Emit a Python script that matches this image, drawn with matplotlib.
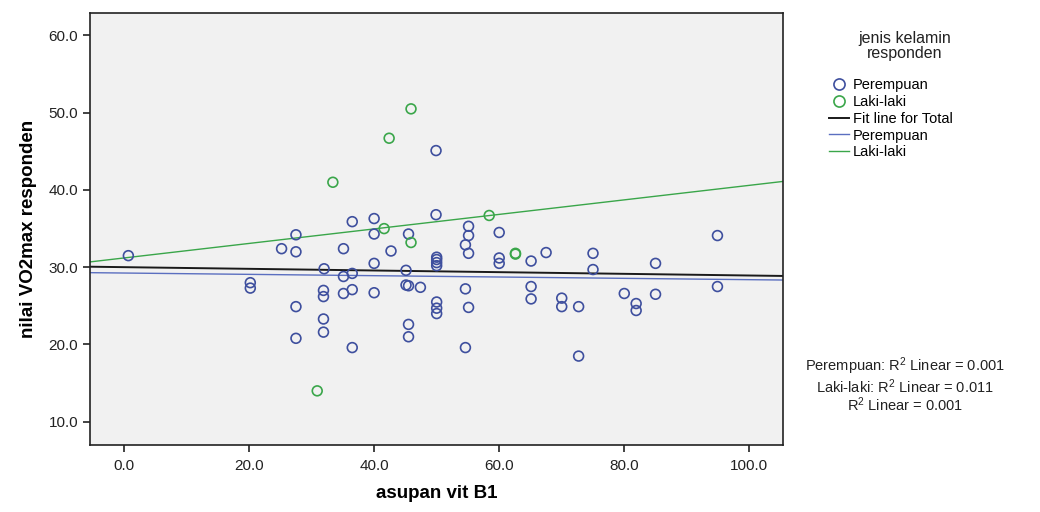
import numpy as np
import matplotlib
matplotlib.use('Agg')
from matplotlib import pyplot as plt
from matplotlib.lines import Line2D

plt.rcParams['font.family'] = ['Liberation Sans', 'DejaVu Sans']
plt.rcParams['mathtext.default'] = 'regular'

# asupan vit B1 vs nilai VO2max, perempuan
x_pr = [0.7, 27.5, 25.2, 27.5, 36.5, 40.0, 40.0, 45.5, 49.9, 50.0, 35.1, 42.7,
        40.0, 45.1, 50.0, 50.0, 50.0, 32.0, 35.1, 36.5, 20.2, 20.2, 31.9, 31.9,
        35.1, 36.5, 40.0, 45.1, 45.5, 47.4, 50.0, 50.0, 50.0, 27.5, 31.9, 31.9,
        27.5, 45.5, 45.5, 36.5, 49.9, 55.1, 55.1, 54.6, 55.1, 60.0, 60.0, 60.0,
        65.1, 67.5, 75.0, 75.0, 85.0, 94.9, 94.9, 54.6, 55.1, 65.1, 65.1, 70.0,
        70.0, 72.7, 80.0, 81.9, 81.9, 85.0, 54.6, 72.7]
y_pr = [31.5, 34.2, 32.4, 32.0, 35.9, 36.3, 34.3, 34.3, 36.8, 31.3, 32.4, 32.1,
        30.5, 29.6, 30.6, 30.2, 31.0, 29.8, 28.8, 29.2, 28.0, 27.3, 27.0, 26.2,
        26.6, 27.1, 26.7, 27.7, 27.6, 27.4, 25.5, 24.7, 24.0, 24.9, 23.3, 21.6,
        20.8, 22.6, 21.0, 19.6, 45.1, 35.3, 34.1, 32.9, 31.8, 34.5, 31.2, 30.5,
        30.8, 31.9, 31.8, 29.7, 30.5, 34.1, 27.5, 27.2, 24.8, 27.5, 25.9, 26.0,
        24.9, 24.9, 26.6, 25.3, 24.4, 26.5, 19.6, 18.5]

# laki-laki
x_lk = [45.9, 42.4, 33.4, 41.6, 45.9, 58.4, 62.6, 62.6, 30.9]
y_lk = [50.5, 46.7, 41.0, 35.0, 33.2, 36.7, 31.7, 31.8, 14.0]

# garis regresi (intercept, slope)
fit_total = (30.01, -0.0108)
fit_pr = (29.25, -0.0086)
fit_lk = (31.2, 0.094)

r2_text = ['Perempuan: R$^2$ Linear = 0.001',
           'Laki-laki: R$^2$ Linear = 0.011',
           'R$^2$ Linear = 0.001']

c_pr = '#3e4f9e'
c_lk = '#3aa64a'

fig = plt.figure(figsize=(10.4, 5.12), dpi=100)
ax = fig.add_axes([0.0865, 0.131, 0.6665, 0.8435])
ax.set_facecolor('#f1f1f1')

ax.scatter(x_pr, y_pr, s=50, facecolors='none', edgecolors=c_pr, linewidths=1.2, zorder=3)
ax.scatter(x_lk, y_lk, s=50, facecolors='none', edgecolors=c_lk, linewidths=1.2, zorder=3)

xlim = (-5.44, 105.4)
xx = np.array(xlim)
ax.plot(xx, fit_total[0] + fit_total[1] * xx, color='#1a1a1a', lw=1.4, zorder=2)
ax.plot(xx, fit_pr[0] + fit_pr[1] * xx, color='#5b6fc0', lw=1.0, zorder=2)
ax.plot(xx, fit_lk[0] + fit_lk[1] * xx, color=c_lk, lw=1.0, zorder=2)

ax.set_xlim(*xlim)
ax.set_ylim(7.0, 62.9)
ax.set_xticks(np.arange(0, 101, 20))
ax.set_xticklabels(['%.1f' % v for v in np.arange(0, 101, 20)])
ax.set_yticks(np.arange(10, 61, 10))
ax.set_yticklabels(['%.1f' % v for v in np.arange(10, 61, 10)])
ax.tick_params(axis='both', direction='out', length=5, width=1.2, labelsize=11, colors='#222222')
ax.tick_params(axis='x', pad=5)
for sp in ax.spines.values():
    sp.set_linewidth(1.2)
    sp.set_color('#222222')

ax.set_xlabel('asupan vit B1', fontsize=13.5, fontweight='bold', labelpad=9)
ax.set_ylabel('nilai VO2max responden', fontsize=13.5, fontweight='bold', labelpad=8)

# legend title drawn separately so the gap below it can be set
fig.text(0.87, 0.91, 'jenis kelamin\nresponden', ha='center', va='center', fontsize=11.5,
         linespacing=1.0, color='#222222')

handles = [Line2D([], [], ls='none', marker='o', ms=8, mfc='none', mec=c_pr, mew=1.2),
           Line2D([], [], ls='none', marker='o', ms=8, mfc='none', mec=c_lk, mew=1.2),
           Line2D([], [], color='#1a1a1a', lw=1.4),
           Line2D([], [], color='#5b6fc0', lw=1.0),
           Line2D([], [], color=c_lk, lw=1.0)]
labels = ['Perempuan', 'Laki-laki', 'Fit line for Total', 'Perempuan', 'Laki-laki']
fig.legend(handles, labels, loc='upper left', bbox_to_anchor=(0.797, 0.848),
           frameon=False, fontsize=10.5, handlelength=1.4, handletextpad=0.25,
           labelspacing=0.2, borderaxespad=0, borderpad=0)

fig.text(0.87, 0.248, '\n'.join(r2_text), ha='center', va='center', fontsize=10.5,
         linespacing=1.0, color='#222222')

plt.savefig('out.png', dpi=100)
